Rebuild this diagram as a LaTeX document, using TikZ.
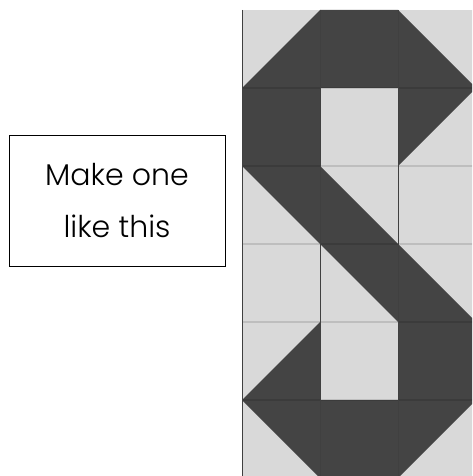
\documentclass[tikz,border=0pt]{standalone}
\usepackage{fontspec}
\newfontfamily\notefont{Poppins Light}
\definecolor{quiltdark}{HTML}{444444}
\definecolor{quiltlight}{HTML}{D9D9D9}

\begin{document}
\begin{tikzpicture}[x=1pt, y=-1pt,
    note/.style={draw, line width=0.8pt, minimum width=216pt, minimum height=131pt,
        align=center, font=\notefont\fontsize{30}{52}\selectfont},
    seam/.style={black, opacity=0.12, line width=1.5pt},
    edge/.style={black!75, line width=0.8pt}]
    \useasboundingbox (0,0) rectangle (472,476);

    % Note
    \node[note] (note) at (117,200.5) {Make one\\like this};

    % Quilt block
    \begin{scope}
    \clip (0,0) rectangle (472,476);
    \begin{scope}[shift={(242,10)}, x=78pt, y=-78pt]
        \fill[quiltlight] (0,0) rectangle (3,6);
        % the S
        \fill[quiltdark] (1,0) -- (2,0) -- (3,1) -- (2,2) -- (2,1) -- (1,1) -- (1,2)
            -- (2,3) -- (3,4) -- (3,5) -- (2,6) -- (1,6) -- (0,5) -- (1,4) -- (1,5)
            -- (2,5) -- (2,4) -- (1,3) -- (0,2) -- (0,1) -- cycle;
        % Seams
        \draw[seam] (0,1) -- (3,1);
        \draw[seam] (0,2) -- (3,2);
        \draw[seam] (0,3) -- (3,3);
        \draw[seam] (0,4) -- (3,4);
        \draw[seam] (0,5) -- (3,5);
        \draw[edge] (0,0) -- (0,6);
        \draw[edge] (1,0) -- (1,6);
        \draw[edge] (2,0) -- (2,6);
    \end{scope}
    \end{scope}
\end{tikzpicture}
\end{document}
